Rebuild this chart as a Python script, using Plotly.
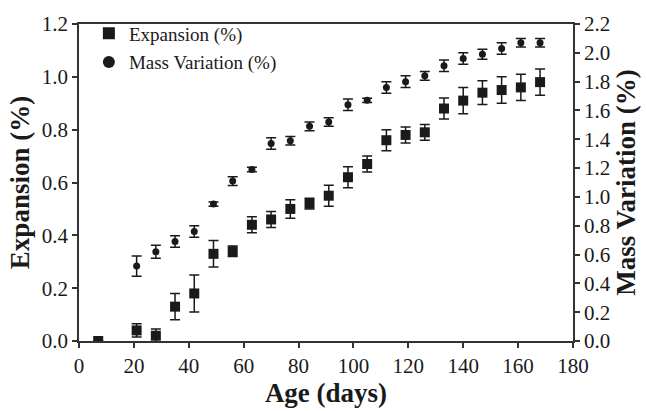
import plotly.graph_objects as go

days = [7, 21, 28, 35, 42, 49, 56, 63, 70, 77, 84, 91, 98, 105, 112, 119, 126, 133, 140, 147, 154, 161, 168]
expansion = [0.0, 0.04, 0.02, 0.13, 0.18, 0.33, 0.34, 0.44, 0.46, 0.50, 0.52, 0.55, 0.62, 0.67, 0.76, 0.78, 0.79, 0.88, 0.91, 0.94, 0.95, 0.96, 0.98]
expansion_err = [0.0, 0.025, 0.025, 0.05, 0.07, 0.05, 0.02, 0.03, 0.03, 0.035, 0.02, 0.04, 0.04, 0.03, 0.04, 0.03, 0.03, 0.04, 0.05, 0.045, 0.05, 0.05, 0.05]

mass_days = [21, 28, 35, 42, 49, 56, 63, 70, 77, 84, 91, 98, 105, 112, 119, 126, 133, 140, 147, 154, 161, 168]
mass = [0.52, 0.62, 0.69, 0.76, 0.95, 1.11, 1.19, 1.37, 1.39, 1.49, 1.52, 1.64, 1.67, 1.76, 1.80, 1.84, 1.91, 1.96, 1.99, 2.03, 2.07, 2.07]
mass_err = [0.07, 0.045, 0.04, 0.04, 0.015, 0.03, 0.015, 0.04, 0.03, 0.03, 0.03, 0.04, 0.015, 0.04, 0.04, 0.03, 0.04, 0.04, 0.035, 0.04, 0.03, 0.03]

font = "Liberation Serif"
ink = "#1a1a1a"

fig = go.Figure()
fig.add_trace(go.Scatter(
    x=days, y=expansion, mode="markers", name="Expansion (%)", legendgroup="a",
    marker=dict(symbol="square", size=10, color=ink),
    error_y=dict(type="data", array=expansion_err, color=ink, thickness=1.5, width=5),
))
fig.add_trace(go.Scatter(
    x=mass_days, y=mass, mode="markers", name="Mass Variation (%)", yaxis="y2", legendgroup="b",
    marker=dict(symbol="circle", size=7, color=ink),
    error_y=dict(type="data", array=mass_err, color=ink, thickness=1.5, width=5),
))

axis_common = dict(
    showgrid=False, zeroline=False, showline=True, linecolor="#333333", linewidth=1.5,
    ticks="outside", ticklen=5, tickwidth=1.5, tickcolor="#333333",
    tickfont=dict(family=font, size=21, color=ink),
)
title_font = dict(family=font, size=27, color=ink)

fig.update_layout(
    width=646, height=411,
    margin=dict(l=79, r=73, t=18, b=66),
    paper_bgcolor="white", plot_bgcolor="white",
    font=dict(family=font, color=ink),
    showlegend=True,
    legend=dict(x=0.02, y=1.03, xanchor="left", yanchor="top", bgcolor="rgba(0,0,0,0)",
                font=dict(family=font, size=19, color=ink), itemsizing="constant",
                tracegroupgap=1),
    xaxis=dict(**axis_common, range=[0, 180], tickvals=[0, 20, 40, 60, 80, 100, 120, 140, 160, 180],
               mirror=True,
               title=dict(text="<b>Age (days)</b>", font=title_font, standoff=2)),
    yaxis=dict(**axis_common, range=[0, 1.2], tickvals=[0, 0.2, 0.4, 0.6, 0.8, 1.0, 1.2], tickformat=".1f",
               title=dict(text="<b>Expansion (%)</b>", font=title_font, standoff=4)),
    yaxis2=dict(**axis_common, range=[0, 2.2], tickvals=[0, 0.2, 0.4, 0.6, 0.8, 1.0, 1.2, 1.4, 1.6, 1.8, 2.0, 2.2],
                tickformat=".1f", overlaying="y", side="right",
                title=dict(text="<b>Mass Variation (%)</b>", font=title_font, standoff=4)),
)

fig.write_html("out.html")
